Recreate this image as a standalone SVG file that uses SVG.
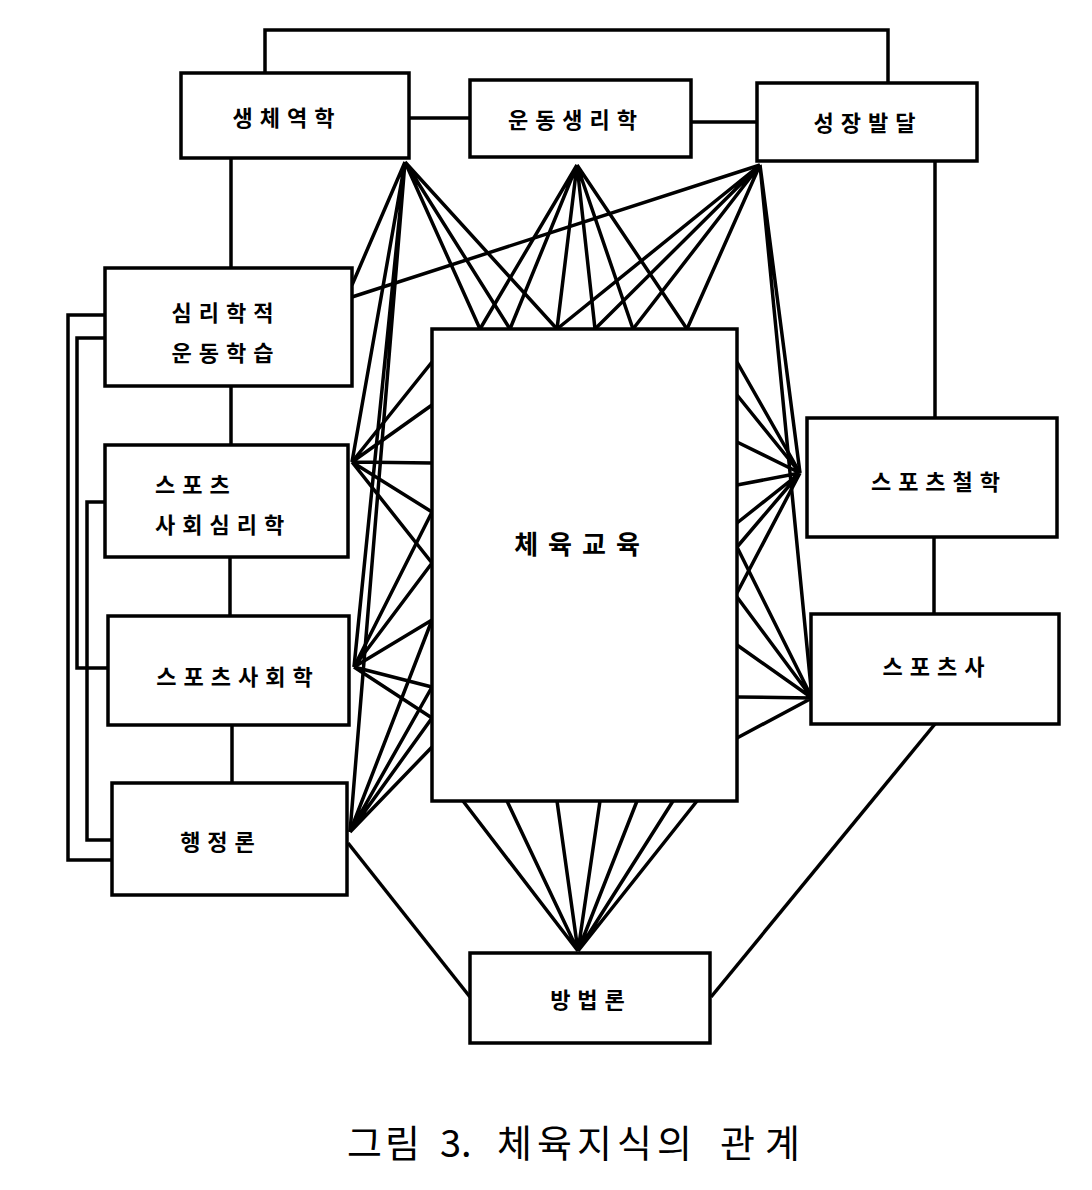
<svg xmlns="http://www.w3.org/2000/svg" width="1092" height="1190" viewBox="0 0 1092 1190">
<style>
.box{fill:#fff;stroke:#000;stroke-width:3.5}
.ln{fill:none;stroke:#000;stroke-width:3.5;stroke-linejoin:miter}
.lb{font-family:"Noto Sans CJK KR","Noto Sans",sans-serif;font-weight:700;font-size:22px;fill:#000;letter-spacing:7px}
.c{text-anchor:middle}
.big{font-size:26px;letter-spacing:10px}
.cap{font-family:"Noto Sans CJK KR","Noto Sans",sans-serif;font-weight:400;font-size:38px;fill:#000}
</style>
<rect width="1092" height="1190" fill="#fff"/>
<g id="connectors" class="ln">
<path d="M265,73 V30 H888 V83"/>
<path d="M409,118 H470"/>
<path d="M691,122 H757"/>
<path d="M231,158 V268"/>
<path d="M231,386 V445"/>
<path d="M230,557 V616"/>
<path d="M232,725 V783"/>
<path d="M935,161 V418"/>
<path d="M934,537 V614"/>
<path d="M935,724 L711,997"/>
<path d="M348,843 L470,997"/>
<path d="M105,315 H68 V860 H112"/>
<path d="M105,338 H77 V668 H108"/>
<path d="M105,502 H87 V840 H112"/>
<path d="M405,162 L352,285 M405,162 L352,462 M405,162 L354,667 M405,162 L350,832"/>
<path d="M405,162 L480,329 M405,162 L510,329 M405,162 L557,329"/>
<path d="M577,165 L480,329 M577,165 L510,329 M577,165 L557,329 M577,165 L595,329 M577,165 L633,329 M577,165 L687,329"/>
<path d="M760,165 L557,329 M760,165 L595,329 M760,165 L633,329 M760,165 L687,329"/>
<path d="M760,165 L352,297 M760,165 L800,473 M760,165 L812,698"/>
<path d="M352,462 L432,362 M352,462 L432,405 M352,462 L432,463 M352,462 L432,512 M352,462 L432,563"/>
<path d="M354,667 L432,512 M354,667 L432,563 M354,667 L432,620 M354,667 L432,687 M354,667 L432,718"/>
<path d="M350,832 L432,620 M350,832 L432,687 M350,832 L432,718 M350,832 L432,747"/>
<path d="M800,473 L737,362 M800,473 L737,395 M800,473 L737,442 M800,473 L737,485 M800,473 L737,523 M800,473 L737,547 M800,473 L737,593"/>
<path d="M812,698 L737,547 M812,698 L737,597 M812,698 L737,645 M812,698 L737,697 M812,698 L737,738"/>
<path d="M578,951 L463,801 M578,951 L507,801 M578,951 L557,801 M578,951 L600,801 M578,951 L637,801 M578,951 L673,801 M578,951 L697,801"/>
</g>
<g id="n-biomech"><rect class="box" x="181" y="73" width="228" height="85"/><text class="lb c" x="287" y="126">생체역학</text></g>
<g id="n-physio"><rect class="box" x="470" y="80" width="221" height="77"/><text class="lb c" x="576" y="128">운동생리학</text></g>
<g id="n-growth"><rect class="box" x="757" y="83" width="220" height="78"/><text class="lb c" x="868" y="131">성장발달</text></g>
<g id="n-psych"><rect class="box" x="105" y="268" width="247" height="118"/><text class="lb c" x="226" y="321">심리학적</text><text class="lb c" x="226" y="361">운동학습</text></g>
<g id="n-socpsych"><rect class="box" x="105" y="445" width="243" height="112"/><text class="lb" x="155" y="493">스포츠</text><text class="lb" x="155" y="533">사회심리학</text></g>
<g id="n-sociology"><rect class="box" x="108" y="616" width="241" height="109"/><text class="lb c" x="238" y="685">스포츠사회학</text></g>
<g id="n-admin"><rect class="box" x="112" y="783" width="235" height="112"/><text class="lb c" x="221" y="850">행정론</text></g>
<g id="n-pe"><rect class="box" x="432" y="329" width="305" height="472"/><text class="lb big c" x="582" y="554">체육교육</text></g>
<g id="n-philo"><rect class="box" x="807" y="418" width="250" height="119"/><text class="lb c" x="939" y="490">스포츠철학</text></g>
<g id="n-history"><rect class="box" x="811" y="614" width="248" height="110"/><text class="lb c" x="937" y="675">스포츠사</text></g>
<g id="n-method"><rect class="box" x="470" y="953" width="240" height="90"/><text class="lb c" x="591" y="1008">방법론</text></g>
<g id="caption" class="cap">
<text x="347" y="1157" textLength="73" lengthAdjust="spacing">그림</text>
<text x="440" y="1157">3.</text>
<text x="497" y="1157" textLength="195" lengthAdjust="spacing">체육지식의</text>
<text x="720" y="1157" textLength="80" lengthAdjust="spacing">관계</text>
</g>
</svg>
